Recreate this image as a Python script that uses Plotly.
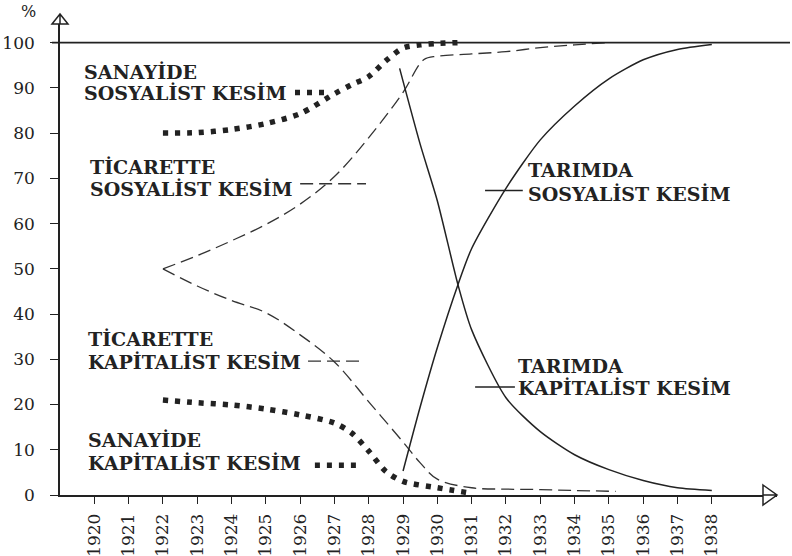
import plotly.graph_objects as go

# ---------------- data ----------------
years_ticks = list(range(1920, 1939))
tick_text = [str(y) for y in years_ticks]
y_ticks = list(range(0, 101, 10))

# Sanayide sosyalist kesim (dotted)
san_sos_x = [1922, 1923, 1924, 1925, 1926, 1927, 1927.5, 1928, 1928.5, 1929, 1929.5, 1930, 1930.6]
san_sos_y = [80, 80.1, 80.8, 82.1, 84.3, 88.7, 90.7, 92.5, 96.0, 98.8, 99.5, 99.8, 100]

# Sanayide kapitalist kesim (dotted)
san_kap_x = [1922, 1923, 1924, 1925, 1926, 1927, 1927.5, 1928, 1928.5, 1929, 1930, 1930.9]
san_kap_y = [21.0, 20.4, 19.9, 19.0, 17.7, 15.9, 13.7, 9.7, 5.2, 3.0, 1.6, 0.5]

# Ticarette sosyalist kesim (dashed)
tic_sos_x = [1922, 1923, 1924, 1925, 1926, 1927, 1928, 1929, 1929.6, 1930, 1931, 1932, 1933, 1934, 1935]
tic_sos_y = [50, 52.9, 56.2, 59.8, 64.3, 70.4, 79.0, 89.0, 96.2, 97.0, 97.5, 98.0, 98.9, 99.5, 100]

# Ticarette kapitalist kesim (dashed)
tic_kap_x = [1922, 1923, 1924, 1925, 1926, 1927, 1928, 1929, 1929.5, 1930, 1931, 1932, 1933, 1934, 1935.2]
tic_kap_y = [50, 46.2, 43.0, 40.3, 35.4, 29.4, 20.6, 11.7, 7.1, 3.5, 1.6, 1.3, 1.2, 1.0, 0.8]

# Tarimda sosyalist kesim (solid)
tar_sos_x = [1929, 1929.5, 1930, 1930.6, 1931, 1932, 1933, 1934, 1935, 1936, 1937, 1938]
tar_sos_y = [5.3, 19.5, 32.6, 46.5, 54.5, 67.8, 78.5, 86.0, 92.0, 96.2, 98.5, 99.6]

# Tarimda kapitalist kesim (solid)
tar_kap_x = [1928.9, 1929.5, 1930, 1930.6, 1931, 1932, 1933, 1934, 1935, 1936, 1937, 1938]
tar_kap_y = [94.3, 77.5, 65.0, 46.5, 36.5, 21.5, 14.0, 8.9, 5.6, 3.2, 1.6, 1.0]

TOTAL = 100

# ---------------- labels ----------------
# (line1, line2, x, y line1, y line2, leader x0, x1, leader y, style)
labels = [
    ("SANAYİDE", "SOSYALİST KESİM", 1919.67, 93.5, 88.9, 1925.85, 1926.9, 89.0, "dot"),
    ("TİCARETTE", "SOSYALİST KESİM", 1919.85, 72.5, 67.6, 1926.0, 1927.92, 68.8, "dash"),
    ("TİCARETTE", "KAPİTALİST KESİM", 1919.8, 34.5, 29.4, 1926.23, 1927.74, 29.6, "dash"),
    ("SANAYİDE", "KAPİTALİST KESİM", 1919.8, 12.2, 7.1, 1926.43, 1927.69, 6.6, "dot"),
    ("TARIMDA", "SOSYALİST KESİM", 1932.62, 71.8, 66.5, 1931.39, 1932.49, 67.3, "solid"),
    ("TARIMDA", "KAPİTALİST KESİM", 1932.32, 28.5, 23.7, 1931.10, 1932.26, 23.9, "solid"),
]

INK = "#222222"
FONT = "DejaVu Serif"
X_RANGE = [1919, 1939.9]
Y_RANGE = [0, 105]

FIG_W, FIG_H = 792, 556
M_L, M_R, M_T, M_B = 60, 15, 20, 61
PLOT_W = FIG_W - M_L - M_R
PLOT_H = FIG_H - M_T - M_B

fig = go.Figure()

styles = {
    "dot": dict(color=INK, width=5.5, dash="5px,7px"),
    "dash": dict(color="#333333", width=1.3, dash="13px,6px"),
    "solid": dict(color=INK, width=1.5),
}

series = [
    (san_sos_x, san_sos_y, "dot", 0.8, "Sanayide sosyalist kesim"),
    (san_kap_x, san_kap_y, "dot", 0.8, "Sanayide kapitalist kesim"),
    (tic_sos_x, tic_sos_y, "dash", 1.0, "Ticarette sosyalist kesim"),
    (tic_kap_x, tic_kap_y, "dash", 1.0, "Ticarette kapitalist kesim"),
    (tar_sos_x, tar_sos_y, "solid", 0.7, "Tarımda sosyalist kesim"),
    (tar_kap_x, tar_kap_y, "solid", 0.7, "Tarımda kapitalist kesim"),
]
for xs, ys, st, sm, nm in series:
    fig.add_trace(go.Scatter(x=xs, y=ys, mode="lines", name=nm,
                             line=dict(shape="spline", smoothing=sm, **styles[st]),
                             showlegend=False, hoverinfo="x+y+name"))

shapes = []
annotations = []
label_font = dict(family=FONT, size=19, color=INK, weight="bold")
for l1, l2, lx, y1, y2, x0, x1, yl, style in labels:
    for txt, yy in ((l1, y1), (l2, y2)):
        annotations.append(dict(text=txt, x=lx, y=yy, xref="x", yref="y",
                                xanchor="left", yanchor="middle", align="left",
                                showarrow=False, borderpad=0, font=label_font))
    shapes.append(dict(type="line", xref="x", yref="y", x0=x0, x1=x1,
                       y0=yl, y1=yl, line=styles[style]))

# 100 % line, extending slightly beyond the axes
shapes.append(dict(type="line", xref="paper", yref="y", xsizemode="pixel",
                   xanchor=0, x0=-8, x1=PLOT_W + 13, y0=TOTAL, y1=TOTAL,
                   line=dict(color=INK, width=1.6)))
# axis arrowheads (open triangles)
shapes.append(dict(type="path", xref="paper", yref="paper",
                   xsizemode="pixel", ysizemode="pixel", xanchor=0, yanchor=1,
                   path="M -8,-4 L 0,6 L 8,-4 Z M 0,-4 L 0,6",
                   fillcolor="white", line=dict(color=INK, width=1.5)))
shapes.append(dict(type="path", xref="paper", yref="paper",
                   xsizemode="pixel", ysizemode="pixel", xanchor=1, yanchor=0,
                   path="M -14,10 L 0,0 L -14,-10 Z M -14,0 L 0,0",
                   fillcolor="white", line=dict(color=INK, width=1.5)))

annotations.append(dict(text="%", xref="paper", yref="paper",
                        x=-32 / PLOT_W, y=1 + 8 / PLOT_H, xanchor="center",
                        yanchor="middle", showarrow=False,
                        font=dict(family=FONT, size=16, color=INK)))

fig.update_layout(
    width=FIG_W, height=FIG_H,
    margin=dict(l=M_L, r=M_R, t=M_T, b=M_B, autoexpand=False),
    paper_bgcolor="white", plot_bgcolor="white",
    shapes=shapes, annotations=annotations,
    xaxis=dict(range=X_RANGE, tickvals=years_ticks, ticktext=tick_text,
               tickangle=-90, ticks="outside", ticklen=7, tickwidth=1.3,
               tickcolor=INK, showline=True, linecolor=INK, linewidth=1.6,
               showgrid=False, zeroline=False, ticklabelstandoff=3,
               automargin=False,
               tickfont=dict(family=FONT, size=17, color=INK)),
    yaxis=dict(range=Y_RANGE, tickvals=y_ticks, ticks="outside", ticklen=8,
               tickwidth=1.3, tickcolor=INK, showline=True, linecolor=INK,
               linewidth=1.6, showgrid=False, zeroline=False,
               ticklabelstandoff=12, automargin=False,
               tickfont=dict(family=FONT, size=17, color=INK)),
)

# remove the browser's default 8px body margin so the figure fills the window
fig.write_html("out.html",
               config={"displayModeBar": False},
               post_script="document.body.style.margin='0';document.body.style.overflow='hidden';")
